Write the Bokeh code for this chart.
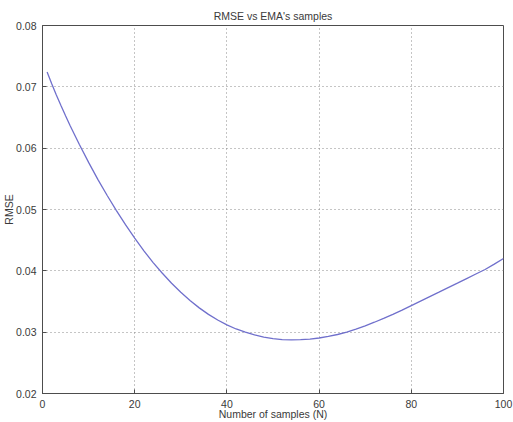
from bokeh.plotting import figure
from bokeh.models import FixedTicker, Range1d
from bokeh.embed import file_html
from bokeh.resources import INLINE

n_samples = [1, 2, 3, 4, 5, 6, 8, 10, 12, 14, 16, 18, 20, 22, 24, 26, 28, 30, 32, 34,
             36, 38, 40, 42, 44, 46, 48, 50, 52, 54, 56, 58, 60, 62, 64, 66, 68, 70, 72,
             74, 76, 78, 80, 82, 84, 86, 88, 90, 92, 94, 96, 98, 100]
rmse = [0.0724, 0.0705, 0.06868, 0.06696, 0.06528, 0.06366, 0.0606, 0.05768, 0.05492,
        0.05232, 0.04986, 0.04752, 0.04532, 0.04326, 0.04134, 0.0396, 0.03798, 0.0365,
        0.03516, 0.03396, 0.0329, 0.03198, 0.03118, 0.03052, 0.0300, 0.02955, 0.0292,
        0.02895, 0.0288, 0.02875, 0.02878, 0.02888, 0.02905, 0.0293, 0.02962, 0.0300,
        0.0305, 0.03104, 0.03162, 0.03224, 0.0329, 0.0336, 0.03434, 0.03507, 0.0358,
        0.03653, 0.03727, 0.0380, 0.03874, 0.03948, 0.04022, 0.0411, 0.0420]
x_ticks = [0, 20, 40, 60, 80, 100]
y_ticks = [0.02, 0.03, 0.04, 0.05, 0.06, 0.07, 0.08]

FONT = "Liberation Sans"
TXT = "#3a3a3a"
FS = "10.5px"

p = figure(width=513, height=422, output_backend="svg", toolbar_location=None,
           x_range=Range1d(0, 100), y_range=Range1d(0.02, 0.08),
           title="RMSE vs EMA's samples",
           min_border_left=38, min_border_right=10, min_border_top=25, min_border_bottom=28)

p.title.align = "center"
p.title.text_font = FONT
p.title.text_font_size = FS
p.title.text_font_style = "normal"
p.title.text_color = TXT
p.title.offset = 0
p.title.standoff = 7

p.outline_line_color = "#4d4d4d"
p.outline_line_width = 1
p.background_fill_color = "white"
p.border_fill_color = "white"

p.line(n_samples, rmse, line_color="#7070cc", line_width=1.3)

for ax in (p.xaxis[0], p.yaxis[0]):
    ax.major_label_text_font = FONT
    ax.major_label_text_font_size = FS
    ax.major_label_text_color = TXT
    ax.axis_label_text_font = FONT
    ax.axis_label_text_font_size = FS
    ax.axis_label_text_font_style = "normal"
    ax.axis_label_text_color = TXT
    ax.axis_line_color = "#4d4d4d"
    ax.major_tick_line_color = "#4d4d4d"
    ax.major_tick_in = 4
    ax.major_tick_out = 0
    ax.minor_tick_line_color = None

p.xaxis.ticker = FixedTicker(ticks=x_ticks)
p.yaxis.ticker = FixedTicker(ticks=y_ticks)
p.xaxis.axis_label = "Number of samples (N)"
p.yaxis.axis_label = "RMSE"
p.xaxis.major_label_standoff = 6
p.xaxis.axis_label_standoff = -3
p.yaxis.major_label_standoff = 6
p.yaxis.axis_label_standoff = -2

p.xgrid.ticker = FixedTicker(ticks=x_ticks)
p.ygrid.ticker = FixedTicker(ticks=y_ticks)
for g in (p.xgrid[0], p.ygrid[0]):
    g.grid_line_color = "#8a8a8a"
    g.grid_line_dash = "1 3"
    g.grid_line_width = 1

open("out.html", "w").write(file_html(p, INLINE))
